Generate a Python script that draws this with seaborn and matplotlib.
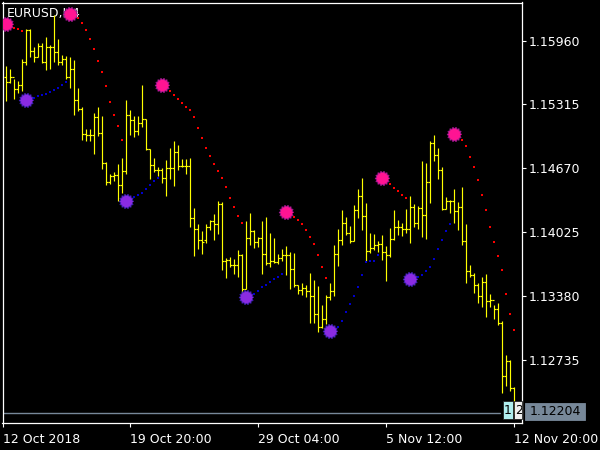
import numpy as np
import matplotlib
matplotlib.use("Agg")
import matplotlib.pyplot as plt
import seaborn as sns
from matplotlib.patches import Rectangle

# ---------------- data (EURUSD H4) ----------------
symbol_label = "EURUSD,H4"

bar_open = [1.15592, 1.15542, 1.15592, 1.15471, 1.15512, 1.15744, 1.16067, 1.15855, 1.15794, 1.15905,
            1.15744, 1.15895, 1.15895, 1.15845, 1.15744, 1.15774, 1.15592, 1.15673, 1.15360, 1.15269,
            1.15017, 1.15007, 1.15007, 1.15188, 1.15027, 1.14724, 1.14532, 1.14592, 1.14603, 1.14502,
            1.14643, 1.15209, 1.15158, 1.15047, 1.15128, 1.15168, 1.14865, 1.14704, 1.14653, 1.14653,
            1.14572, 1.14673, 1.14673, 1.14835, 1.14693, 1.14693, 1.14693, 1.14168, 1.14057, 1.13946,
            1.13946, 1.14077, 1.14138, 1.14108, 1.14310, 1.13734, 1.13744, 1.13694, 1.13694, 1.13795,
            1.13451, 1.13966, 1.14037, 1.13926, 1.13966, 1.13805, 1.13714, 1.13734, 1.13724, 1.13764,
            1.13795, 1.13795, 1.13653, 1.13492, 1.13441, 1.13461, 1.13431, 1.13380, 1.13199, 1.13067,
            1.13148, 1.13370, 1.13431, 1.13805, 1.13946, 1.14118, 1.14017, 1.13936, 1.14249, 1.14390,
            1.14188, 1.13835, 1.13865, 1.13896, 1.13906, 1.13825, 1.13795, 1.13956, 1.14077, 1.14077,
            1.14057, 1.14057, 1.14279, 1.14118, 1.14269, 1.14199, 1.14532, 1.14926, 1.14805, 1.14653,
            1.14259, 1.14340, 1.14340, 1.14239, 1.14279, 1.13936, 1.13633, 1.13593, 1.13492, 1.13380,
            1.13522, 1.13330, 1.13340, 1.13249, 1.13108, 1.12572, 1.12724, 1.12451]

bar_high = [1.15703, 1.15673, 1.15572, 1.15552, 1.15774, 1.16077, 1.16077, 1.15895, 1.15936, 1.15936,
            1.15996, 1.15916, 1.16219, 1.15976, 1.15815, 1.15804, 1.15794, 1.15764, 1.15481, 1.15289,
            1.15067, 1.15067, 1.15229, 1.15289, 1.15198, 1.14734, 1.14613, 1.14633, 1.14714, 1.14774,
            1.15360, 1.15259, 1.15198, 1.15198, 1.15512, 1.15168, 1.14865, 1.14774, 1.14683, 1.14673,
            1.14754, 1.14875, 1.14946, 1.14906, 1.14764, 1.14764, 1.14774, 1.14269, 1.14108, 1.14037,
            1.14108, 1.14148, 1.14209, 1.14340, 1.14330, 1.13764, 1.13774, 1.13754, 1.13845, 1.13805,
            1.14138, 1.14219, 1.14047, 1.13976, 1.14138, 1.14178, 1.14017, 1.13966, 1.13805, 1.13855,
            1.13885, 1.13825, 1.13815, 1.13492, 1.13512, 1.13492, 1.13613, 1.13542, 1.13481, 1.13290,
            1.13391, 1.13512, 1.13896, 1.14057, 1.14249, 1.14178, 1.14087, 1.14300, 1.14461, 1.14572,
            1.14320, 1.14017, 1.14007, 1.13936, 1.13997, 1.13885, 1.14067, 1.14249, 1.14148, 1.14118,
            1.14259, 1.14390, 1.14310, 1.14289, 1.14744, 1.14724, 1.14946, 1.15007, 1.14875, 1.14683,
            1.14380, 1.14350, 1.14461, 1.14330, 1.14481, 1.14108, 1.13694, 1.13613, 1.13512, 1.13572,
            1.13603, 1.13401, 1.13290, 1.13310, 1.13128, 1.12785, 1.12734, 1.12461]

bar_low = [1.15350, 1.15532, 1.15370, 1.15431, 1.15451, 1.15714, 1.15794, 1.15744, 1.15794, 1.15734,
           1.15663, 1.15673, 1.15744, 1.15714, 1.15714, 1.15572, 1.15481, 1.15209, 1.15249, 1.14956,
           1.14946, 1.14946, 1.14815, 1.14996, 1.14663, 1.14502, 1.14512, 1.14542, 1.14340, 1.14421,
           1.14613, 1.15007, 1.14986, 1.15007, 1.15087, 1.14855, 1.14562, 1.14633, 1.14592, 1.14522,
           1.14390, 1.14562, 1.14491, 1.14653, 1.14683, 1.14613, 1.14077, 1.13784, 1.13855, 1.13805,
           1.13916, 1.14047, 1.13946, 1.14007, 1.13643, 1.13562, 1.13673, 1.13603, 1.13572, 1.13411,
           1.13451, 1.13896, 1.13865, 1.13875, 1.13603, 1.13694, 1.13673, 1.13714, 1.13704, 1.13734,
           1.13593, 1.13451, 1.13471, 1.13401, 1.13391, 1.13370, 1.13108, 1.13108, 1.13017, 1.13057,
           1.13098, 1.13340, 1.13380, 1.13683, 1.13896, 1.13997, 1.13916, 1.13936, 1.14168, 1.14047,
           1.13734, 1.13815, 1.13845, 1.13825, 1.13744, 1.13532, 1.13774, 1.13946, 1.13997, 1.13986,
           1.14017, 1.13916, 1.14077, 1.14057, 1.13976, 1.13956, 1.14320, 1.14744, 1.14562, 1.14249,
           1.14259, 1.14219, 1.14118, 1.14047, 1.13896, 1.13512, 1.13572, 1.13411, 1.13310, 1.13269,
           1.13168, 1.13269, 1.13148, 1.13088, 1.12401, 1.12471, 1.12421, 1.12190]

bar_close = [1.15542, 1.15592, 1.15471, 1.15512, 1.15744, 1.16067, 1.15855, 1.15794, 1.15905, 1.15744,
             1.15895, 1.15895, 1.15845, 1.15744, 1.15774, 1.15592, 1.15673, 1.15360, 1.15269, 1.15017,
             1.15007, 1.15007, 1.15188, 1.15027, 1.14724, 1.14532, 1.14592, 1.14603, 1.14502, 1.14643,
             1.15209, 1.15158, 1.15047, 1.15128, 1.15168, 1.14865, 1.14704, 1.14653, 1.14653, 1.14572,
             1.14673, 1.14673, 1.14835, 1.14693, 1.14693, 1.14693, 1.14168, 1.14057, 1.13946, 1.13926,
             1.14077, 1.14138, 1.14108, 1.14310, 1.13734, 1.13744, 1.13694, 1.13694, 1.13795, 1.13451,
             1.13966, 1.14037, 1.13926, 1.13966, 1.13805, 1.13714, 1.13734, 1.13724, 1.13764, 1.13795,
             1.13795, 1.13653, 1.13492, 1.13441, 1.13461, 1.13431, 1.13380, 1.13199, 1.13067, 1.13148,
             1.13370, 1.13431, 1.13805, 1.13946, 1.14118, 1.14017, 1.13936, 1.14249, 1.14390, 1.14188,
             1.13835, 1.13865, 1.13896, 1.13906, 1.13825, 1.13795, 1.13956, 1.14077, 1.14077, 1.14057,
             1.14057, 1.14279, 1.14118, 1.14269, 1.14199, 1.14532, 1.14926, 1.14805, 1.14653, 1.14259,
             1.14340, 1.14340, 1.14239, 1.14279, 1.13936, 1.13633, 1.13593, 1.13492, 1.13380, 1.13522,
             1.13330, 1.13340, 1.13249, 1.13108, 1.12572, 1.12724, 1.12451, 1.12204]

# trailing-stop dots (bar index, price)
red_dot_bars = [2, 3, 4,
                18, 19, 20, 21, 22, 23, 24, 25, 26, 27, 28, 29,
                41, 42, 43, 44, 45, 46, 47, 48, 49, 50, 51, 52, 53, 54, 55, 56, 57, 58, 59,
                72, 73, 74, 75, 76, 77, 78, 79, 80,
                96, 97, 98, 99, 100,
                114, 115, 116, 117, 118, 119, 120, 121, 122, 123, 124, 125, 126, 127]
red_dot_prices = [1.16087, 1.16080, 1.16060,
                  1.16188, 1.16141, 1.16067, 1.15979, 1.15878, 1.15757, 1.15643, 1.15501, 1.15343,
                  1.15212, 1.15097, 1.14956,
                  1.15454, 1.15414, 1.15373, 1.15333, 1.15292, 1.15259, 1.15191, 1.15077, 1.14976,
                  1.14875, 1.14794, 1.14714, 1.14646, 1.14572, 1.14484, 1.14370, 1.14282, 1.14188,
                  1.14121,
                  1.14181, 1.14148, 1.14108, 1.14047, 1.13979, 1.13906, 1.13798, 1.13676, 1.13562,
                  1.14512, 1.14471, 1.14444, 1.14404, 1.14370,
                  1.14956, 1.14895, 1.14787, 1.14686, 1.14552, 1.14404, 1.14249, 1.14080, 1.13926,
                  1.13784, 1.13643, 1.13401, 1.13199, 1.13037]

blue_dot_bars = [7, 8, 9, 10, 11, 12, 13, 14, 15,
                 32, 33, 34, 35, 36, 37, 38,
                 62, 63, 64, 65, 66, 67, 68, 69,
                 83, 84, 85, 86, 87, 88, 89, 90, 91, 92, 93,
                 103, 104, 105, 106, 107, 108, 109, 110, 111]
blue_dot_prices = [1.15380, 1.15400, 1.15410, 1.15421, 1.15441, 1.15458, 1.15481, 1.15512, 1.15545,
                   1.14383, 1.14404, 1.14424, 1.14464, 1.14505, 1.14545, 1.14572,
                   1.13401, 1.13434, 1.13468, 1.13494, 1.13522, 1.13555, 1.13575, 1.13603,
                   1.13070, 1.13131, 1.13219, 1.13300, 1.13380, 1.13474, 1.13596, 1.13724, 1.13737,
                   1.13737, 1.13798,
                   1.13575, 1.13596, 1.13636, 1.13676, 1.13757, 1.13858, 1.13946, 1.14040, 1.14108]

pink_star_bars = [0, 16, 39, 70, 94, 112]
pink_star_prices = [1.16128, 1.16229, 1.15512, 1.14229, 1.14572, 1.15017]
purple_star_bars = [5, 30, 60, 81, 101]
purple_star_prices = [1.15360, 1.14345, 1.13370, 1.13027, 1.13552]

price_ticks = [1.15960, 1.15315, 1.14670, 1.14025, 1.13380, 1.12735]
price_tick_labels = ["1.15960", "1.15315", "1.14670", "1.14025", "1.13380", "1.12735"]
time_tick_bars = [-0.9, 31, 63, 95, 127]
time_tick_labels = ["12 Oct 2018", "19 Oct 20:00", "29 Oct 04:00", "5 Nov 12:00", "12 Nov 20:00"]
last_price = 1.12204
last_price_label = "1.12204"

# ---------------- style ----------------
sns.set_style("dark", rc={"axes.facecolor": "black", "figure.facecolor": "black",
                          "axes.edgecolor": "white", "text.color": "white",
                          "xtick.color": "white", "ytick.color": "white"})
plt.rcParams["font.family"] = ["DejaVu Sans"]

W, H = 600, 450
fig = plt.figure(figsize=(6, 4.5), dpi=100, facecolor="black")
ax = fig.add_axes([2.5 / W, (H - 423) / H, 519.5 / W, 420.5 / H])
ax.set_facecolor("black")

idx = np.arange(len(bar_high))
yellow = "#FFFF00"
ax.vlines(idx, bar_low, bar_high, colors=yellow, linewidth=0.85, zorder=2)
ax.hlines(bar_open, idx - 0.5, idx, colors=yellow, linewidth=0.85, zorder=2)
ax.hlines(bar_close, idx, idx + 0.5, colors=yellow, linewidth=0.85, zorder=2)

# dots (2x2 px squares)
sns.scatterplot(x=red_dot_bars, y=red_dot_prices, color="#FF0000", marker="s", s=2.3,
                linewidth=0, antialiased=False, ax=ax, zorder=3, legend=False)
sns.scatterplot(x=blue_dot_bars, y=blue_dot_prices, color="#0000CC", marker="s", s=2.3,
                linewidth=0, antialiased=False, ax=ax, zorder=3, legend=False)

# star (sun-like) marker
n_teeth = 14
ang = np.linspace(0, 2 * np.pi, 2 * n_teeth, endpoint=False)
rad = np.where(np.arange(2 * n_teeth) % 2 == 0, 1.0, 0.8)
star_verts = np.column_stack([rad * np.cos(ang), rad * np.sin(ang)])

sns.scatterplot(x=pink_star_bars, y=pink_star_prices, color="#FF1493", marker=star_verts,
                s=110, linewidth=0.6, edgecolor="#9A1890", ax=ax, zorder=5, legend=False)
sns.scatterplot(x=purple_star_bars, y=purple_star_prices, color="#8A2BE2", marker=star_verts,
                s=110, linewidth=0.6, edgecolor="#3A20B0", ax=ax, zorder=5, legend=False)

# last price line
ax.axhline(last_price, xmax=0.957, color="#778899", linewidth=1.0, zorder=1)

# axes limits
ax.set_xlim(-0.95, 128.9)
ax.set_ylim(1.12098, 1.16345)

# ticks
ax.yaxis.tick_right()
ax.set_yticks(price_ticks)
ax.set_yticklabels(price_tick_labels)
ax.tick_params(axis="y", colors="white", length=3, width=0.8, pad=2, labelsize=9,
               direction="out", right=True, left=False)
ax.set_xticks(time_tick_bars)
ax.set_xticklabels(time_tick_labels)
for lab in ax.get_xticklabels():
    lab.set_horizontalalignment("left")
ax.tick_params(axis="x", colors="white", length=3, width=0.8, pad=4, labelsize=9,
               direction="out", bottom=True)
for sp in ax.spines.values():
    sp.set_visible(True)
    sp.set_color("white")
    sp.set_linewidth(0.9)
ax.grid(False)

# symbol label
ax.text(0.008, 0.99, symbol_label, transform=ax.transAxes, ha="left", va="top",
        color="white", fontsize=9, zorder=1)

# small label boxes at bottom right of the chart
def fig_box(x0, y0, x1, y1, fc, ec=None):
    fig.add_artist(Rectangle((x0 / W, (H - y1) / H), (x1 - x0) / W, (y1 - y0) / H,
                             transform=fig.transFigure, facecolor=fc,
                             edgecolor=ec if ec else fc, linewidth=0.6, zorder=5))

fig_box(525, 403, 585, 420, "#778899")
fig.text(530 / W, (H - 411.5) / H, last_price_label, color="black", fontsize=9,
         ha="left", va="center", zorder=6)

fig_box(502.5, 401, 513, 419, "#AFEEEE", "#202020")
fig.text(507.7 / W, (H - 410) / H, "1", color="black", fontsize=9, ha="center",
         va="center", zorder=6)
fig_box(514, 401, 521.5, 419, "#F0F0F0", "#202020")
t2 = fig.text(515 / W, (H - 410) / H, "2", color="black", fontsize=9, ha="left",
              va="center", zorder=6)
t2.set_clip_box(ax.bbox)
t2.set_clip_on(True)

fig.savefig("out.png", dpi=100, facecolor="black")
